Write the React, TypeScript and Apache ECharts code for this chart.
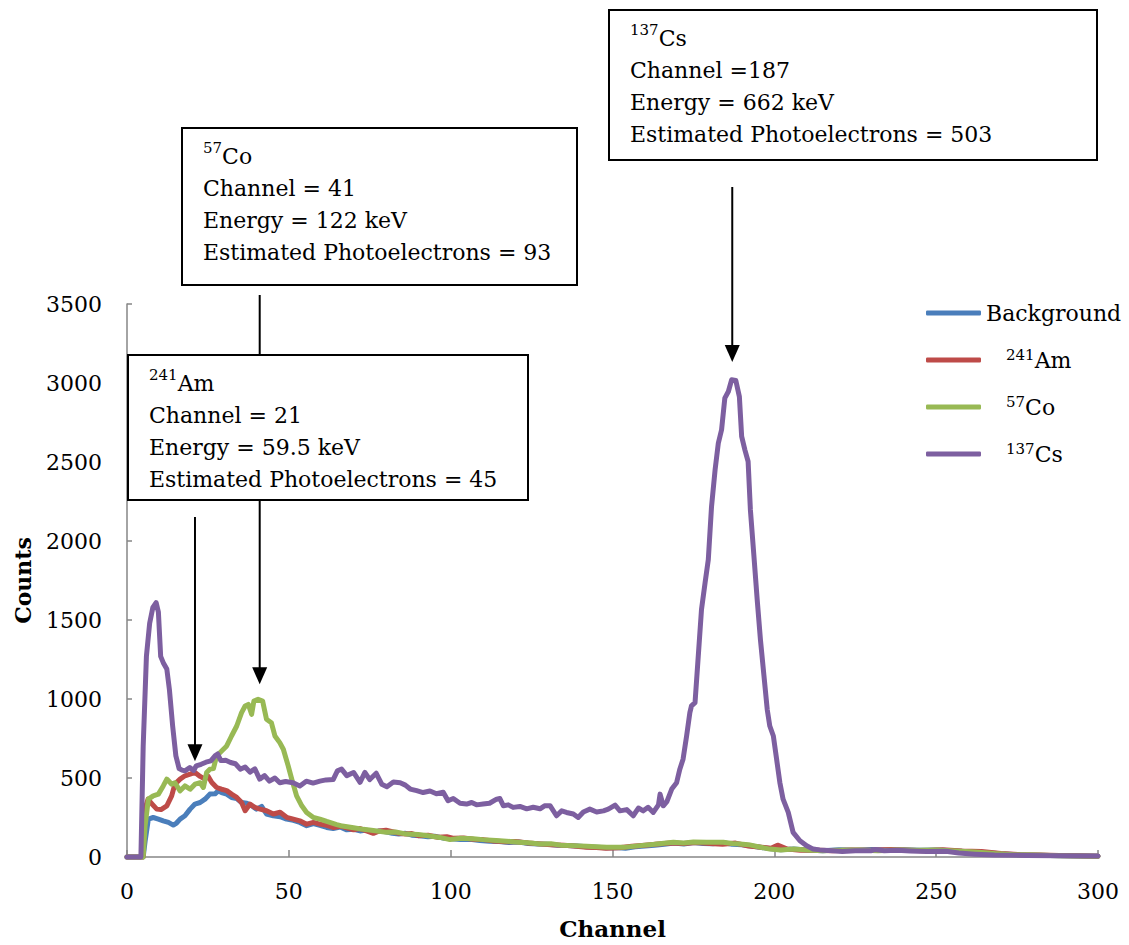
import { useEffect, useRef } from 'react';
import * as echarts from 'echarts';

const SERIF = "'DejaVu Serif', 'Liberation Serif', serif";

const seriesNames = ['Background', '241Am', '57Co', '137Cs'];
const seriesColors = ['#4a7ebb', '#be4b48', '#98b954', '#7d5fa0'];

const xAxisMin = 0;
const xAxisMax = 300;
const xAxisStep = 50;
const yAxisMin = 0;
const yAxisMax = 3500;
const yAxisStep = 500;

const backgroundCounts = [
  [0, 0], [5, 0], [5.6, 100], [6.6, 240], [8.1, 250], [9.7, 240], [11.2, 229], [12.8, 219], [14.3, 202],
  [15.3, 215], [16.4, 240], [17.9, 261], [19.5, 303], [21, 335], [22.6, 345], [24.1, 366], [25.6, 398],
  [27.2, 400], [28.2, 419], [29.2, 408], [30.8, 398], [32.3, 377], [33.9, 370], [35.4, 345], [37, 340],
  [38.5, 324], [40, 303], [41.6, 320], [43.1, 272], [45.2, 261], [47.3, 255], [49.3, 240], [51.4, 232],
  [53.4, 219], [55.5, 198], [57.6, 212], [59.6, 200], [61.7, 187], [63.7, 180], [65.8, 190], [67.9, 172],
  [70, 175], [72, 165], [74, 170], [76, 158], [78, 165], [80, 160], [82, 150], [84, 145], [86, 150],
  [88, 138], [90.5, 135], [93, 128], [95, 132], [98, 118], [100, 115], [103, 110], [106, 112], [109, 104],
  [112, 100], [115, 98], [118, 92], [121, 95], [124, 86], [127, 82], [130, 80], [133, 75], [136, 72],
  [139, 70], [142, 65], [145, 62], [148, 58], [151, 60], [154, 55], [157, 65], [160, 70], [163, 75],
  [166, 80], [169, 88], [172, 82], [175, 92], [178, 86], [181, 84], [184, 92], [187, 80], [190, 78],
  [193, 70], [196, 60], [199, 52], [202, 46], [206, 50], [210, 44], [215, 40], [220, 46], [225, 42],
  [230, 48], [235, 44], [240, 46], [245, 42], [250, 44], [255, 40], [260, 34], [265, 28], [270, 20],
  [275, 15], [280, 12], [285, 10], [290, 8], [295, 6], [300, 5],
];

const am241Counts = [
  [0, 0], [5, 0], [5.5, 300], [6.5, 366], [7.5, 340], [9.2, 303], [10.5, 300], [12.3, 324], [13.8, 387],
  [14.8, 461], [16.4, 493], [17.9, 514], [19.5, 524], [21, 535], [22.6, 510], [24.1, 493], [25.1, 510],
  [26.2, 472], [27.7, 440], [29.2, 429], [30.8, 420], [32.3, 398], [33.9, 377], [35.4, 345], [36.5, 293],
  [38, 335], [39.5, 314], [41.1, 303], [43.1, 293], [45.2, 272], [47.3, 283], [49.3, 251], [51.4, 240],
  [53.4, 229], [55.5, 208], [57.6, 219], [59.6, 208], [61.7, 200], [63.7, 187], [66, 195], [70, 172],
  [72, 180], [74, 165], [76.1, 150], [78, 165], [80, 170], [82, 160], [84, 150], [86, 145], [88, 148],
  [90, 135], [93, 138], [96, 125], [98.8, 128], [101, 118], [104, 120], [107, 112], [110, 110], [113, 102],
  [117, 96], [120, 98], [124, 88], [127, 84], [131, 78], [135, 74], [138, 70], [142, 62], [145, 60],
  [148, 55], [152, 58], [156, 68], [160, 75], [164, 82], [168, 88], [172, 85], [176, 92], [180, 85],
  [184, 80], [188, 88], [192, 70], [196, 62], [199, 55], [201, 75], [204, 50], [208, 42], [212, 45],
  [218, 40], [224, 45], [230, 42], [236, 48], [240, 44], [246, 40], [252, 46], [258, 38], [264, 35],
  [270, 22], [276, 15], [282, 12], [288, 10], [294, 8], [300, 5],
];

const co57Counts = [
  [0, 0], [5, 0], [5.6, 200], [6.6, 366], [8.1, 387], [9.7, 398], [11.2, 450], [12.3, 493], [13.8, 461],
  [14.8, 470], [16.4, 419], [17.9, 450], [19.5, 429], [21, 461], [22.6, 470], [23.6, 440], [24.6, 535],
  [25.6, 556], [26.7, 560], [27.7, 640], [28.7, 660], [30.8, 703], [32.3, 766], [33.9, 829], [35.4, 914],
  [36.5, 956], [37.5, 966], [38.5, 903], [39.2, 987], [40.5, 998], [41.9, 987], [43.1, 872], [44.6, 850],
  [45.7, 766], [47.2, 724], [48.3, 682], [49.8, 577], [50.9, 493], [52.4, 387], [54, 324], [55.5, 282],
  [57.6, 250], [59.6, 240], [61.7, 225], [64.8, 205], [66, 198], [70, 185], [73, 175], [76.1, 168],
  [80.2, 156], [83, 158], [86.4, 145], [90, 142], [93, 135], [96.7, 124], [99.8, 110], [103, 118],
  [107, 116], [110, 110], [114, 104], [117.3, 100], [121, 94], [124, 90], [127.6, 82], [131, 84],
  [134, 75], [138, 72], [142, 68], [145, 65], [148.2, 61], [153.4, 61], [158.5, 72], [163, 80],
  [168.8, 93], [172, 88], [175, 95], [179.1, 93], [184.2, 93], [187, 85], [189.4, 82], [192, 78],
  [195, 65], [198.6, 50], [202, 45], [206, 50], [210, 45], [215, 40], [220, 42], [226, 45], [232, 40],
  [238, 45], [244, 42], [250, 45], [256, 38], [262, 32], [268, 22], [274, 15], [280, 12], [288, 8],
  [294, 6], [300, 5],
];

const cs137Counts = [
  [0, 0], [4.3, 0], [5, 700], [6, 1270], [7, 1480], [8, 1580], [9, 1610], [9.7, 1550], [10.4, 1270],
  [11.2, 1230], [12.3, 1190], [13.1, 1060], [14.1, 830], [15.1, 640], [16.1, 560], [17, 550], [17.9, 545],
  [19.4, 566], [20.6, 548], [21.4, 577], [22.9, 587], [24.4, 600], [25.9, 608], [27.2, 640], [28, 652],
  [29, 610], [30.5, 612], [32, 598], [33.5, 590], [35, 556], [36.5, 570], [38, 537], [39.5, 558],
  [41, 493], [42.5, 515], [44, 480], [45.7, 500], [47.2, 470], [49, 478], [51.3, 470], [53.4, 450],
  [55.4, 480], [57.5, 468], [59.6, 480], [61.5, 488], [63.7, 490], [65, 545], [66.3, 556], [67.9, 515],
  [70, 535], [72, 473], [73.5, 535], [75, 490], [77, 530], [78.7, 461], [80.3, 445], [82.3, 475],
  [84.4, 470], [86, 455], [87.5, 430], [89.5, 420], [91.5, 408], [93.6, 418], [95.6, 400], [97.7, 410],
  [99.2, 356], [100.8, 370], [102.9, 340], [104.9, 335], [106.5, 345], [108, 330], [110, 335], [112, 340],
  [114.2, 366], [115.2, 370], [116.3, 324], [117.8, 330], [119.3, 314], [121.4, 320], [123.5, 305],
  [125.5, 315], [127.6, 305], [129, 324], [130.7, 325], [132.7, 261], [134.3, 292], [135.8, 282],
  [137.9, 272], [139.4, 250], [141, 285], [143, 303], [145.1, 285], [147.2, 292], [148.7, 303],
  [150.8, 328], [152.3, 292], [154.4, 300], [156.4, 261], [158, 310], [159.5, 292], [161, 315],
  [162.6, 282], [164.2, 330], [164.7, 398], [165.7, 324], [166.8, 350], [168.3, 430], [169.8, 470],
  [170.8, 556], [171.8, 619], [172.9, 766], [173.9, 914], [174.4, 956], [175.5, 977], [176.5, 1272],
  [177.5, 1567], [178.6, 1735], [179.6, 1882], [180.6, 2219], [181.7, 2451], [182.7, 2620], [183.7, 2704],
  [184.7, 2904], [185.8, 2946], [186.8, 3020], [188.1, 3016], [189.2, 2914], [189.9, 2662], [190.9, 2577],
  [191.9, 2503], [192.6, 2198], [193.7, 1903], [194.7, 1630], [195.7, 1377], [196.8, 1145], [197.8, 935],
  [198.6, 829], [199.7, 766], [200.7, 619], [201.7, 472], [202.7, 366], [204.3, 282], [205.8, 156],
  [207.9, 103], [210, 71], [212, 50], [214, 45], [218, 40], [221, 35], [225, 40], [230, 40], [231, 47],
  [234, 40], [238, 42], [242, 38], [247, 35], [253, 36], [257, 25], [262, 18], [268, 12], [278, 10],
  [288, 8], [300, 6],
];

const peakIsotopes = [['241', 'Am'], ['57', 'Co'], ['137', 'Cs']];
const peakChannels = [21, 41, 187];
const peakChannelTexts = ['Channel = 21', 'Channel = 41', 'Channel =187'];
const peakEnergyTexts = ['Energy = 59.5 keV', 'Energy = 122 keV', 'Energy = 662 keV'];
const peakPhotoTexts = [
  'Estimated Photoelectrons = 45',
  'Estimated Photoelectrons = 93',
  'Estimated Photoelectrons = 503',
];
const arrowTipCounts = [606, 1093, 3133];

// box layout (pixels)
const boxLayout = [
  { x: 128, y: 355, w: 400, h: 145, arrowTop: 517 },
  { x: 182, y: 128, w: 395, h: 157, arrowTop: 295 },
  { x: 609, y: 10, w: 488, h: 150, arrowTop: 187 },
];

export default function App() {
  const ref = useRef<HTMLDivElement>(null);
  useEffect(() => {
    const chart = echarts.init(ref.current!, null, { renderer: 'svg' });
    const seriesData = [backgroundCounts, am241Counts, co57Counts, cs137Counts];
    const axisGrey = '#868686';
    chart.setOption({
      animation: false,
      backgroundColor: '#ffffff',
      grid: { left: 127, right: 31, top: 304, bottom: 87, containLabel: false },
      legend: {
        orient: 'vertical',
        left: 926,
        top: 300,
        padding: 0,
        itemWidth: 55,
        itemHeight: 5,
        itemGap: 21,
        icon: 'roundRect',
        data: seriesNames,
        formatter: (name: string) => {
          const m = name.match(/^(\d+)(\D.*)$/);
          return m ? `{sup|${m[1]}}{main|${m[2]}}` : `{main|${name}}`;
        },
        textStyle: {
          fontFamily: SERIF,
          fontSize: 22,
          color: '#000',
          lineHeight: 26,
          rich: {
            sup: { fontFamily: SERIF, fontSize: 15, color: '#000', lineHeight: 24, verticalAlign: 'top', padding: [0, 0, 0, 20] },
            main: { fontFamily: SERIF, fontSize: 22, color: '#000', lineHeight: 26 },
          },
        },
      },
      xAxis: {
        type: 'value',
        min: xAxisMin,
        max: xAxisMax,
        interval: xAxisStep,
        name: 'Channel',
        nameLocation: 'middle',
        nameGap: 60,
        nameTextStyle: { fontFamily: SERIF, fontWeight: 'bold', fontSize: 23, color: '#000' },
        axisLine: { lineStyle: { color: axisGrey, width: 1.5 } },
        axisTick: { inside: true, length: 7, lineStyle: { color: axisGrey, width: 1.5 } },
        axisLabel: { fontFamily: SERIF, fontSize: 22, color: '#000', margin: 23, formatter: (v: number) => String(v) },
        splitLine: { show: false },
      },
      yAxis: {
        type: 'value',
        min: yAxisMin,
        max: yAxisMax,
        interval: yAxisStep,
        name: 'Counts',
        nameLocation: 'middle',
        nameGap: 93,
        nameTextStyle: { fontFamily: SERIF, fontWeight: 'bold', fontSize: 22, color: '#000' },
        axisLine: { show: true, lineStyle: { color: axisGrey, width: 1.5 } },
        axisTick: { show: true, inside: true, length: 5, lineStyle: { color: axisGrey, width: 1.5 } },
        axisLabel: { fontFamily: SERIF, fontSize: 22, color: '#000', margin: 25, formatter: (v: number) => String(v) },
        splitLine: { show: false },
      },
      series: seriesNames.map((name, i) => ({
        name,
        type: 'line',
        data: seriesData[i],
        symbol: 'none',
        showSymbol: false,
        clip: false,
        z: 2 + i,
        color: seriesColors[i],
        itemStyle: { color: seriesColors[i] },
        lineStyle: { color: seriesColors[i], width: 5, cap: 'round', join: 'round' },
      })),
    });

    const elements: any[] = [];
    peakChannels.forEach((ch, i) => {
      const pt = chart.convertToPixel({ gridIndex: 0 }, [ch, arrowTipCounts[i]]) as number[];
      const px = pt[0];
      const tipY = pt[1];
      const b = boxLayout[i];
      elements.push({
        type: 'line',
        z: 50,
        shape: { x1: px, y1: b.arrowTop, x2: px, y2: tipY - 14 },
        style: { stroke: '#000', lineWidth: 2 },
      });
      elements.push({
        type: 'polygon',
        z: 50,
        shape: { points: [[px - 7.5, tipY - 17], [px + 7.5, tipY - 17], [px, tipY]] },
        style: { fill: '#000' },
      });
    });
    peakChannels.forEach((_ch, i) => {
      const b = boxLayout[i];
      elements.push({
        type: 'rect',
        z: 60,
        shape: { x: b.x, y: b.y, width: b.w, height: b.h },
        style: { fill: '#fff', stroke: '#000', lineWidth: 2 },
      });
      elements.push({
        type: 'text',
        z: 61,
        x: b.x + 21,
        y: b.y + 12,
        style: {
          text: `{sup|${peakIsotopes[i][0]}}{main|${peakIsotopes[i][1]}}\n{main|${peakChannelTexts[i]}}\n{main|${peakEnergyTexts[i]}}\n{main|${peakPhotoTexts[i]}}`,
          fill: '#000',
          fontFamily: SERIF,
          fontSize: 22,
          verticalAlign: 'top',
          align: 'left',
          rich: {
            sup: { fontFamily: SERIF, fontSize: 15, fill: '#000', lineHeight: 30, verticalAlign: 'top' },
            main: { fontFamily: SERIF, fontSize: 22, fill: '#000', lineHeight: 32 },
          },
        },
      });
    });
    chart.setOption({ graphic: { elements } });
    return () => chart.dispose();
  }, []);
  return (
    <div
      ref={ref}
      style={{ position: 'absolute', left: 0, top: 0, width: 1129, height: 945, background: '#fff' }}
    />
  );
}
